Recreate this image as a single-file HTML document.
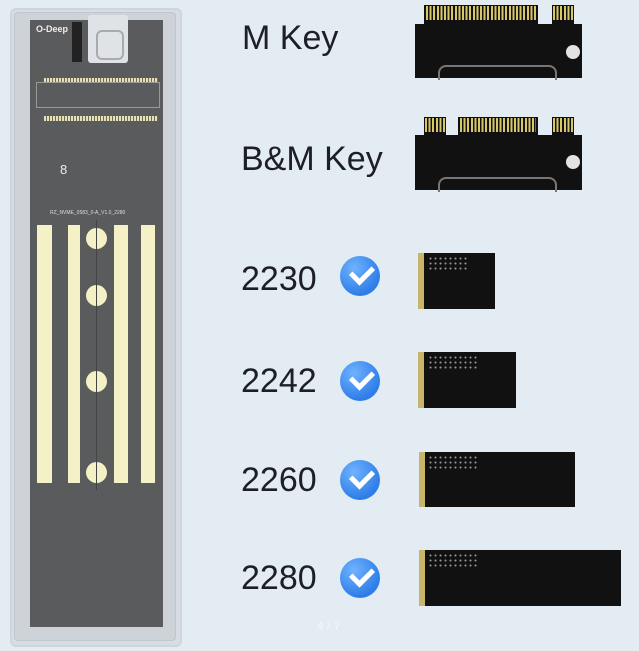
<!DOCTYPE html>
<html><head><meta charset="utf-8"><style>
body{margin:0;width:639px;height:651px;overflow:hidden;background:#e3ebf3;position:relative;font-family:"Liberation Sans",sans-serif}
.a{position:absolute}
.t{position:absolute;font-size:34px;color:#1e1f24;line-height:34px;letter-spacing:0px}
.chk{position:absolute;width:40px;height:40px;border-radius:50%;background:radial-gradient(circle at 35% 30%,#6fb2ff,#2f7ee8 70%)}
.chk:after{content:"";position:absolute;left:11px;top:9px;width:17px;height:10px;border-left:5px solid #fff;border-bottom:5px solid #fff;transform:rotate(-45deg)}
.card{position:absolute;background:#111;border-left:6px solid #c9b56a}
.dots{position:absolute;background-image:radial-gradient(#ccc 0.8px,transparent 1.2px);background-size:5px 5px;opacity:.7}
</style></head><body>
<!-- enclosure -->
<div class="a" style="left:10px;top:8px;width:168px;height:635px;border:2px solid #cfd5dc;border-radius:6px;background:#d8dde3"></div>
<div class="a" style="left:14px;top:12px;width:160px;height:627px;border:1px solid #bfc6ce;border-radius:4px;background:#cdd3d9"></div>
<div class="a" style="left:30px;top:20px;width:133px;height:607px;background:#5a5b5d"></div>
<div class="a" style="left:88px;top:15px;width:40px;height:48px;background:#dfe3e7;border-radius:3px"></div>
<div class="a" style="left:96px;top:30px;width:24px;height:26px;border:2px solid #aaa;border-radius:6px"></div>
<div class="a" style="left:72px;top:22px;width:10px;height:40px;background:#222"></div>
<div class="a" style="left:36px;top:24px;font-size:9px;color:#eee;font-weight:bold">O-Deep</div>
<div class="a" style="left:44px;top:78px;width:114px;height:5px;background:repeating-linear-gradient(90deg,#e7e0b0 0 2px,#6a6a60 2px 3px)"></div>
<div class="a" style="left:44px;top:116px;width:114px;height:5px;background:repeating-linear-gradient(90deg,#e7e0b0 0 2px,#6a6a60 2px 3px)"></div>
<div class="a" style="left:36px;top:82px;width:122px;height:24px;border:1px solid #999"></div>
<div class="a" style="left:50px;top:210px;font-size:5px;color:#ddd">RZ_NVME_0583_0-A_V1.0_2280</div>
<div class="a" style="left:60px;top:162px;font-size:13px;color:#eee">8</div>
<div class="a" style="left:37px;top:225px;width:15px;height:258px;background:#f4f1c6"></div>
<div class="a" style="left:68px;top:225px;width:12px;height:258px;background:#f4f1c6"></div>
<div class="a" style="left:114px;top:225px;width:14px;height:258px;background:#f4f1c6"></div>
<div class="a" style="left:141px;top:225px;width:14px;height:258px;background:#f4f1c6"></div>
<div class="a" style="left:86px;top:228px;width:21px;height:21px;border-radius:50%;background:#f4f1c6"></div>
<div class="a" style="left:86px;top:285px;width:21px;height:21px;border-radius:50%;background:#f4f1c6"></div>
<div class="a" style="left:86px;top:371px;width:21px;height:21px;border-radius:50%;background:#f4f1c6"></div>
<div class="a" style="left:86px;top:462px;width:21px;height:21px;border-radius:50%;background:#f4f1c6"></div>
<div class="a" style="left:96px;top:220px;width:1px;height:270px;background:#444"></div>
<!-- labels -->
<div class="t" style="left:242px;top:21px">M Key</div>
<div class="t" style="left:241px;top:142px">B&amp;M Key</div>
<div class="t" style="left:241px;top:262px">2230</div>
<div class="t" style="left:241px;top:364px">2242</div>
<div class="t" style="left:241px;top:463px">2260</div>
<div class="t" style="left:241px;top:561px">2280</div>
<div class="chk" style="left:340px;top:256px"></div>
<div class="chk" style="left:340px;top:361px"></div>
<div class="chk" style="left:340px;top:460px"></div>
<div class="chk" style="left:340px;top:558px"></div>
<!-- M key card -->
<div class="a" style="left:415px;top:24px;width:167px;height:54px;background:#111"></div>
<div class="a" style="left:424px;top:5px;width:114px;height:20px;background:#111"></div>
<div class="a" style="left:426px;top:6px;width:110px;height:14px;background:repeating-linear-gradient(90deg,#d8c766 0 2px,#111 2px 3.6px)"></div>
<div class="a" style="left:552px;top:5px;width:22px;height:20px;background:#111"></div>
<div class="a" style="left:553px;top:6px;width:20px;height:14px;background:repeating-linear-gradient(90deg,#d8c766 0 2px,#111 2px 3.6px)"></div>
<div class="a" style="left:566px;top:45px;width:14px;height:14px;border-radius:50%;background:#e3e3e3"></div>
<div class="a" style="left:438px;top:65px;width:115px;height:13px;border:2px solid #777;border-bottom:none;border-radius:8px 8px 0 0"></div>
<!-- B&M card -->
<div class="a" style="left:415px;top:135px;width:167px;height:55px;background:#111"></div>
<div class="a" style="left:424px;top:117px;width:22px;height:20px;background:#111"></div>
<div class="a" style="left:425px;top:118px;width:20px;height:14px;background:repeating-linear-gradient(90deg,#d8c766 0 2px,#111 2px 3.6px)"></div>
<div class="a" style="left:458px;top:117px;width:80px;height:20px;background:#111"></div>
<div class="a" style="left:460px;top:118px;width:76px;height:14px;background:repeating-linear-gradient(90deg,#d8c766 0 2px,#111 2px 3.6px)"></div>
<div class="a" style="left:552px;top:117px;width:22px;height:20px;background:#111"></div>
<div class="a" style="left:553px;top:118px;width:20px;height:14px;background:repeating-linear-gradient(90deg,#d8c766 0 2px,#111 2px 3.6px)"></div>
<div class="a" style="left:566px;top:155px;width:14px;height:14px;border-radius:50%;background:#e3e3e3"></div>
<div class="a" style="left:438px;top:177px;width:115px;height:13px;border:2px solid #777;border-bottom:none;border-radius:8px 8px 0 0"></div>
<!-- small cards -->
<div class="card" style="left:418px;top:253px;width:71px;height:56px"></div>
<div class="card" style="left:418px;top:352px;width:92px;height:56px"></div>
<div class="card" style="left:419px;top:452px;width:150px;height:55px"></div>
<div class="card" style="left:419px;top:550px;width:196px;height:56px"></div>
<div class="dots" style="left:428px;top:256px;width:40px;height:14px"></div>
<div class="dots" style="left:428px;top:355px;width:50px;height:14px"></div>
<div class="dots" style="left:428px;top:455px;width:50px;height:14px"></div>
<div class="dots" style="left:428px;top:553px;width:50px;height:14px"></div>
<div class="a" style="left:317px;top:619px;font-size:12px;color:#f4f6f8">4 / 7</div>
</body></html>
